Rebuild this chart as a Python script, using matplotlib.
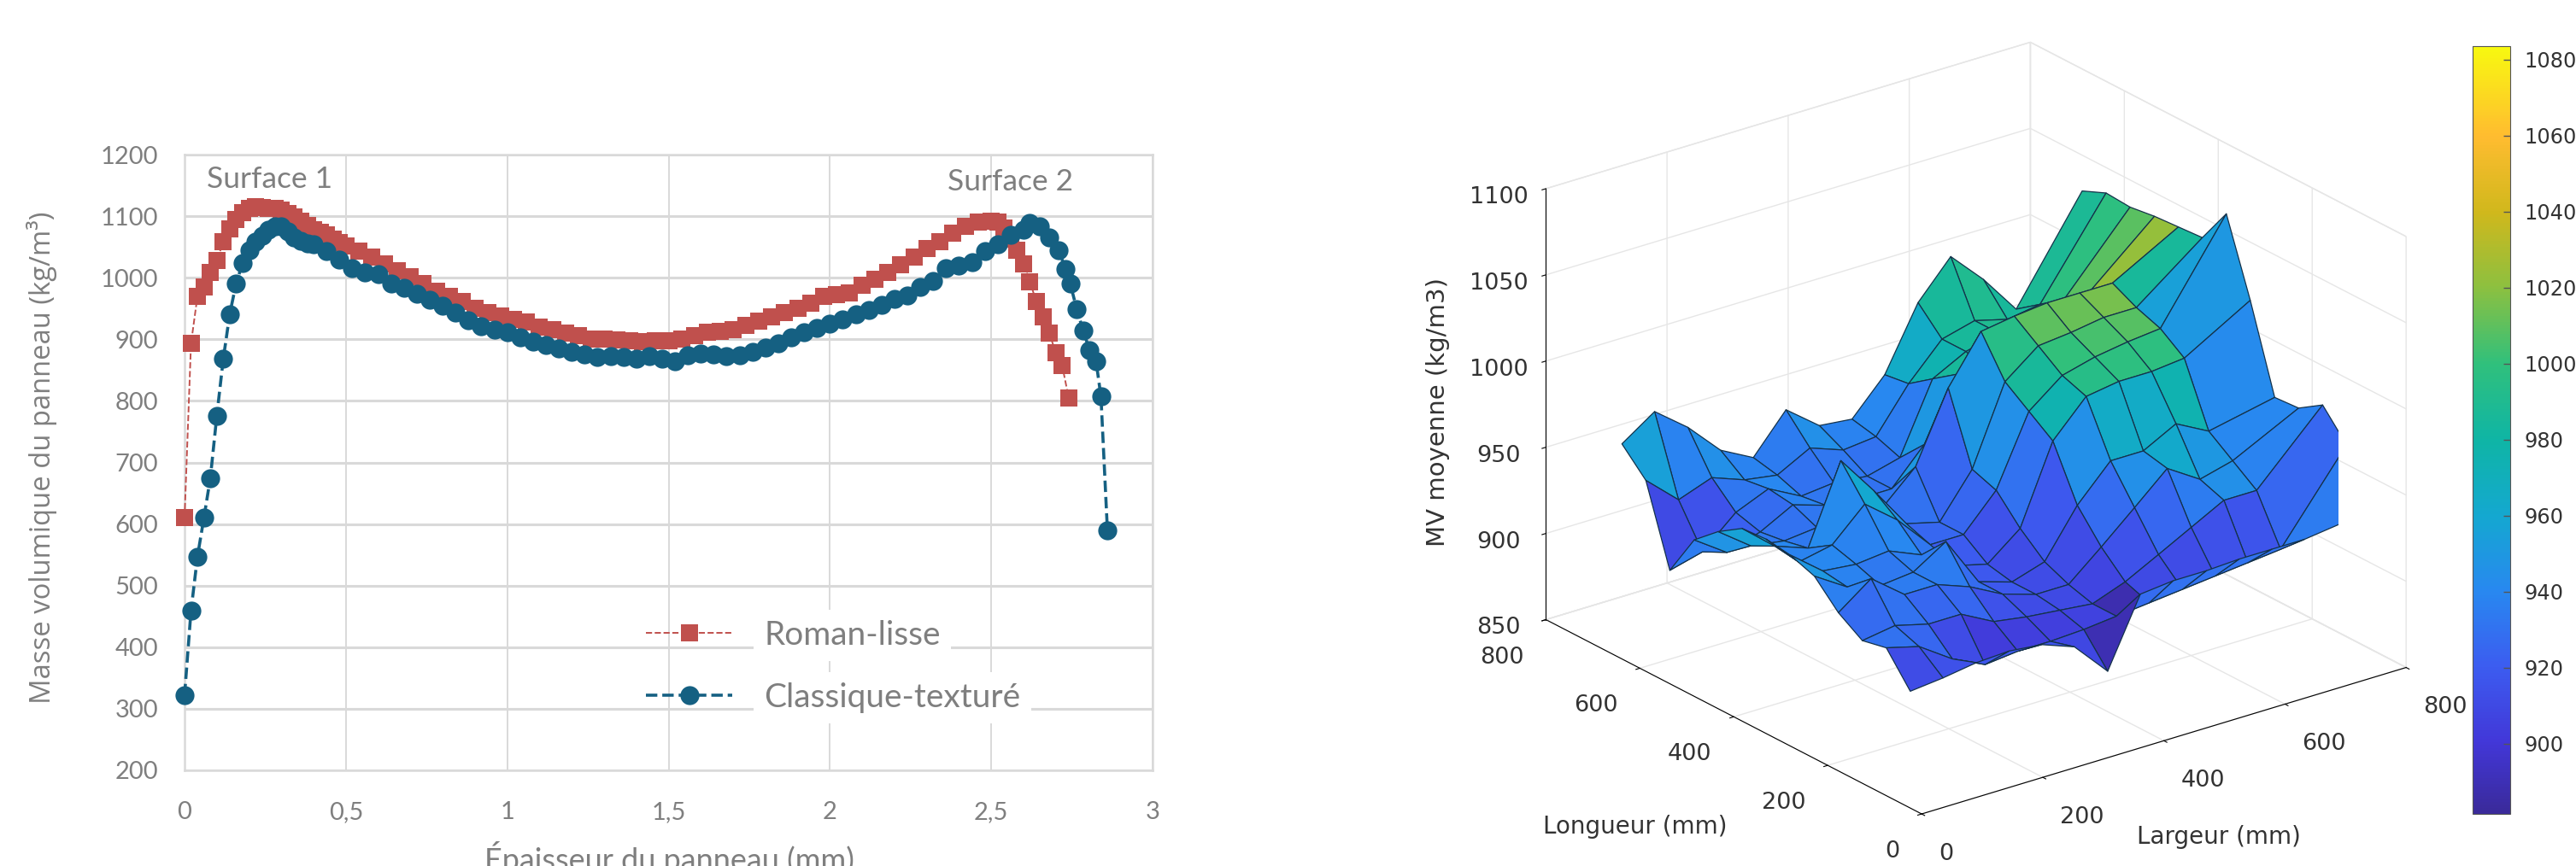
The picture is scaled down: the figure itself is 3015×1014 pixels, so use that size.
# Profil de densite (gauche) et surface MV moyenne (droite)
import numpy as np
import matplotlib
matplotlib.use('Agg')
import matplotlib.pyplot as plt
from matplotlib.colors import LinearSegmentedColormap, Normalize
from matplotlib.cm import ScalarMappable
from mpl_toolkits.mplot3d import Axes3D

# Profil Roman-lisse
x_roman = [0, .02, .04, .06, .08, .10, .12, .14, .16, .18, .20, .22, .24, .26, .28, .30, .32, .34, .36, .38,
           .40, .42, .44, .46, .48, .50, .54, .58, .62, .66, .70, .74, .78, .82, .86, .90, .94, .98, 1.02, 1.06,
           1.10, 1.14, 1.18, 1.22, 1.26, 1.30, 1.34, 1.38, 1.42, 1.46, 1.50, 1.54, 1.58, 1.62, 1.66, 1.70, 1.74,
           1.78, 1.82, 1.86, 1.90, 1.94, 1.98, 2.02, 2.06, 2.10, 2.14, 2.18, 2.22, 2.26, 2.30, 2.34, 2.38, 2.42,
           2.46, 2.50, 2.52, 2.54, 2.56, 2.58, 2.60, 2.62, 2.64, 2.66, 2.68, 2.70, 2.72, 2.74]
y_roman = [610, 893, 970, 985, 1008, 1028, 1058, 1080, 1095, 1106, 1113, 1115, 1114, 1112, 1112, 1110, 1104, 1099, 1092, 1085,
           1078, 1074, 1069, 1062, 1057, 1051, 1043, 1033, 1023, 1012, 1001, 990, 978, 970, 961, 951, 944, 938, 933, 928,
           920, 915, 910, 906, 901, 900, 899, 897, 896, 898, 897, 901, 906, 911, 913, 916, 922,
           930, 936, 943, 951, 959, 970, 972, 975, 988, 998, 1008, 1021, 1034, 1047, 1059, 1072, 1084,
           1090, 1092, 1090, 1081, 1062, 1045, 1023, 993, 961, 936, 910, 878, 857, 805]

# Profil Classique-texture
x_classique = [0, .02, .04, .06, .08, .10, .12, .14, .16, .18, .20, .22, .24, .26, .28, .30, .32, .34, .36, .38,
               .40, .44, .48, .52, .56, .60, .64, .68, .72, .76, .80, .84, .88, .92, .96, 1.00, 1.04, 1.08,
               1.12, 1.16, 1.20, 1.24, 1.28, 1.32, 1.36, 1.40, 1.44, 1.48, 1.52, 1.56, 1.60, 1.64, 1.68, 1.72,
               1.76, 1.80, 1.84, 1.88, 1.92, 1.96, 2.00, 2.04, 2.08, 2.12, 2.16, 2.20, 2.24, 2.28, 2.32, 2.36,
               2.40, 2.44, 2.48, 2.52, 2.56, 2.60, 2.62, 2.65, 2.68, 2.71, 2.73, 2.745, 2.765, 2.785, 2.805, 2.825, 2.84, 2.86]
y_classique = [322, 459, 547, 610, 675, 776, 868, 941, 991, 1024, 1045, 1058, 1068, 1078, 1083, 1084, 1075, 1065, 1060, 1056,
               1054, 1043, 1030, 1015, 1008, 1006, 990, 984, 974, 964, 954, 944, 931, 921, 915, 911, 903, 896,
               891, 885, 880, 875, 871, 873, 871, 869, 872, 868, 865, 874, 877, 875, 873, 874,
               880, 887, 893, 903, 912, 918, 925, 932, 940, 948, 956, 965, 971, 985, 995, 1015,
               1020, 1025, 1043, 1055, 1070, 1078, 1089, 1084, 1066, 1044, 1014, 990, 949, 914, 882, 864, 807, 590]

x_ticklabels = ['0', '0,5', '1', '1,5', '2', '2,5', '3']
x_tickvals = [0, .5, 1, 1.5, 2, 2.5, 3]
y_tickvals = [200, 300, 400, 500, 600, 700, 800, 900, 1000, 1100, 1200]

# Surface : largeur (colonnes), longueur (lignes)
largeur = [20, 74, 129, 183, 237, 291, 346, 400, 454, 509, 563, 617, 671, 780]
longueur = [50, 101, 152, 203, 254, 306, 357, 408, 459, 510, 562, 613, 664]
mv_00 = [912, 914, 917, 918, 916, 909, 889, 928, 930, 930, 931, 931, 931, 936]
mv_01 = [930, 925, 912, 903, 905, 905, 906, 908, 910, 912, 914, 916, 918, 967]
mv_02 = [927, 930, 925, 925, 915, 912, 910, 908, 915, 925, 935, 945, 945, 983]
mv_03 = [936, 950, 935, 935, 928, 918, 912, 912, 928, 945, 962, 950, 955, 974]
mv_04 = [950, 938, 933, 935, 947, 918, 912, 918, 945, 965, 965, 975, 965, 973]
mv_05 = [955, 940, 938, 940, 932, 920, 915, 930, 975, 995, 998, 998, 1000, 1022]
mv_06 = [957, 938, 942, 960, 945, 925, 925, 945, 985, 1000, 1005, 1008, 1010, 1065]
mv_07 = [956, 940, 933, 978, 955, 930, 925, 950, 995, 1010, 1012, 1015, 1015, 1044]
mv_08 = [947, 933, 930, 932, 945, 932, 950, 990, 1017, 1020, 1022, 1022, 1022, 1043]
mv_09 = [935, 922, 928, 938, 932, 930, 930, 950, 985, 980, 985, 995, 1009, 1042]
mv_10 = [910, 915, 932, 940, 930, 932, 930, 935, 975, 985, 990, 995, 998, 1040]
mv_11 = [955, 938, 945, 938, 935, 945, 938, 940, 965, 985, 990, 985, 988, 1041]
mv_12 = [969, 982, 967, 948, 938, 960, 945, 943, 963, 999, 1020, 1001, 978, 1035]
# couleur des facettes le long du pli (x = 671), lignes 0 a 7
couleur_pli = [935, 925, 938, 940, 942, 950, 955, 985]
couleur_creux = 888

surf_ticks = [0, 200, 400, 600, 800]
mv_ticks = [850, 900, 950, 1000, 1050, 1100]
cbar_ticks = [900, 920, 940, 960, 980, 1000, 1020, 1040, 1060, 1080]
cbar_min = 881.5
cbar_max = 1083.5
parula_vals = [881.5, 900, 920, 940, 960, 980, 1000, 1020, 1040, 1060, 1083.5]
parula_cols = ['#3A2A9A', '#4237D8', '#3C5CF0', '#2888F0', '#14A8D0', '#0FB5A5', '#30C07C', '#8CC040', '#D0B81C', '#FFBC30', '#F8F810']

W, H = 3015, 1014
fig = plt.figure(figsize=(W / 100, H / 100), dpi=100)
fig.patch.set_facecolor('white')


def box(left, top, right, bottom):
    return [left / W, 1 - bottom / H, (right - left) / W, (bottom - top) / H]


# ---------- graphique de gauche
gris = '#7f7f7f'
ax = fig.add_axes(box(216, 181, 1349, 902))
ax.set_xlim(0, 3)
ax.set_ylim(200, 1200)
ax.set_xticks(x_tickvals)
ax.set_xticklabels(x_ticklabels)
ax.set_yticks(y_tickvals)
ax.grid(True, axis='y', color='#d9d9d9', lw=2.2)
ax.grid(True, axis='x', color='#d9d9d9', lw=1.4)
ax.set_axisbelow(True)
for s in ax.spines.values():
    s.set_color('#d9d9d9')
    s.set_linewidth(1.8)
ax.tick_params(axis='x', length=0, pad=26, labelsize=21, labelcolor=gris)
ax.tick_params(axis='y', length=0, pad=22, labelsize=21, labelcolor=gris)
for lab in ax.get_xticklabels() + ax.get_yticklabels():
    lab.set_family('Lato')

ax.plot(x_roman, y_roman, color='#C0504D', ls='--', lw=1.4, marker='s', ms=15, mew=0,
        clip_on=False, label='Roman-lisse', zorder=3)
ax.plot(x_classique, y_classique, color='#156082', ls='--', lw=2.6, marker='o', ms=16, mew=0,
        clip_on=False, label='Classique-texturé', zorder=4)

ax.text(.07, 1160, 'Surface 1', fontsize=25.5, color=gris, family='Lato', va='center')
ax.text(2.365, 1155, 'Surface 2', fontsize=25.5, color=gris, family='Lato', va='center')
ax.set_ylabel('Masse volumique du panneau (kg/m³)', fontsize=23.6, color=gris, family='Open Sans')
ax.yaxis.set_label_coords(-.1315, .508)
ax.set_xlabel('Épaisseur du panneau (mm)', fontsize=26, color=gris, family='Lato', va='top')
ax.xaxis.set_label_coords(.501, -.115)

leg = ax.legend(loc='upper left', bbox_to_anchor=(756 / W, 1 - 726 / H), bbox_transform=fig.transFigure,
                frameon=False, prop={'family': 'Lato', 'size': 28}, handlelength=2.6, handletextpad=.95,
                labelspacing=.95, borderpad=0, borderaxespad=0)
for t in leg.get_texts():
    t.set_color(gris)
    t.set_bbox(dict(fc='white', ec='none', pad=9))

# ---------- surface de droite
parula = LinearSegmentedColormap.from_list(
    'parula', [((v - cbar_min) / (cbar_max - cbar_min), c) for v, c in zip(parula_vals, parula_cols)])
norm = Normalize(cbar_min, cbar_max)
Z = np.array([mv_00, mv_01, mv_02, mv_03, mv_04, mv_05, mv_06, mv_07, mv_08, mv_09, mv_10, mv_11, mv_12], dtype=float)
C = Z.copy()
C[:8, 12] = couleur_pli
C[1, 7] = couleur_creux
X, Y = np.meshgrid(largeur, longueur)

s3d = 871
cx, cy = 2301, 513
ax3 = fig.add_axes(box(cx - s3d / 2, cy - s3d / 2, cx + s3d / 2, cy + s3d / 2), projection='3d', proj_type='ortho')
ax3.patch.set_alpha(0)
ax3.view_init(elev=23.3, azim=-127.4)
ax3.set_box_aspect((695, 705, 535), zoom=1132 / s3d / 1.009)
ax3.plot_surface(X, Y, Z, facecolors=parula(norm(C)), rstride=1, cstride=1, shade=False,
                 edgecolor='#14324a', linewidth=.9, antialiased=True)
ax3.set_xlim(0, 800)
ax3.set_ylim(0, 800)
ax3.set_zlim(850, 1100)
ax3.set_xticks(surf_ticks)
ax3.set_yticks(surf_ticks)
ax3.set_zticks(mv_ticks)
for a in (ax3.xaxis, ax3.yaxis, ax3.zaxis):
    a.set_pane_color((1, 1, 1, 1))
    a.pane.set_edgecolor('#e4e4e4')
    a._axinfo['grid']['color'] = '#e6e6e6'
    a._axinfo['grid']['linewidth'] = 1.0
    a._axinfo['axisline']['color'] = '#555555'
    a._axinfo['tick']['color'] = '#555555'
    a._axinfo['tick']['inward_factor'] = .1
    a._axinfo['tick']['outward_factor'] = 0
ax3.tick_params(axis='both', labelsize=19.5, labelcolor='#333333', pad=7)
ax3.tick_params(axis='z', labelsize=19.5, labelcolor='#333333', pad=10)
for lab in ax3.get_xticklabels():
    lab.set_ha('left')
for lab in ax3.get_yticklabels():
    lab.set_ha('right')

fig.text(1683 / W, 1 - 482 / H, 'MV moyenne (kg/m3)', rotation=90, fontsize=21, color='#333333', ha='center', va='center')
fig.text(1914 / W, 1 - 968 / H, 'Longueur (mm)', fontsize=20, color='#333333', ha='center', va='center')
fig.text(2597 / W, 1 - 980 / H, 'Largeur (mm)', fontsize=20, color='#333333', ha='center', va='center')

# ---------- barre de couleur
cax = fig.add_axes(box(2894, 54, 2938, 953))
cb = fig.colorbar(ScalarMappable(norm=norm, cmap=parula), cax=cax, ticks=cbar_ticks)
cb.ax.tick_params(direction='in', length=6, width=1, labelsize=17.3, labelcolor='#333333', pad=12, color='#555555')
cb.outline.set_edgecolor('#555555')
cb.outline.set_linewidth(.8)

fig.savefig('out.png', dpi=100)
